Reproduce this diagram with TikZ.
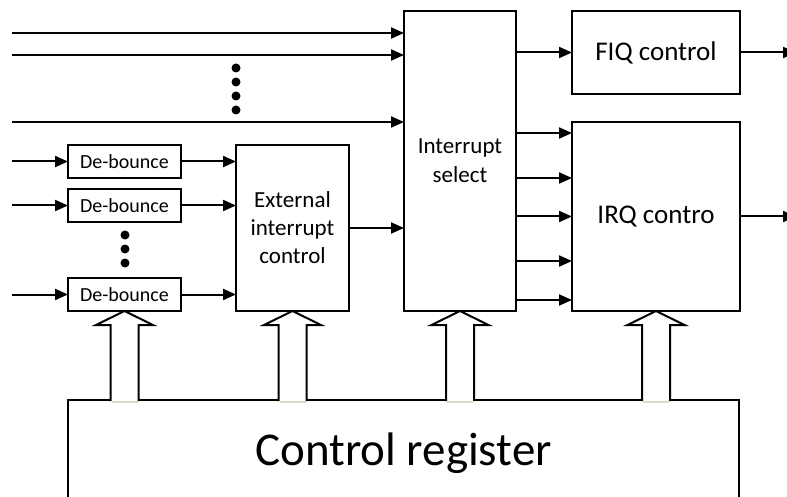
\documentclass[tikz,border=0pt]{standalone}
\usepackage{fontspec}
\setmainfont{Carlito}
\usetikzlibrary{arrows.meta,calc}
\definecolor{paleedge}{RGB}{214,220,198}
\begin{document}
\begin{tikzpicture}[x=1pt,y=-1pt,
  box/.style={draw,line width=2pt,inner sep=0pt,outer sep=0pt,align=center,fill=white},
  dbbox/.style={box,minimum width=113pt,minimum height=33pt,font=\fontsize{20}{24}\selectfont},
  sig/.style={line width=2pt,-{Triangle[length=13pt,width=11pt]}},
  blockarrow/.style={draw,fill=white,line width=2pt,line join=miter},
  paleline/.style={draw=paleedge,line width=2pt},
  dot/.style={fill=black}]
\useasboundingbox (0,0) rectangle (787,497);
\clip (0,0) rectangle (787,497);
% boxes
\node[dbbox] (db1) at (124.5,161.5) {De-bounce};
\node[dbbox] (db2) at (124.5,205.5) {De-bounce};
\node[dbbox] (db3) at (124.5,294.5) {De-bounce};
\node[box,minimum width=113pt,minimum height=166pt,font=\fontsize{23}{28}\selectfont] (ext) at (292.5,228) {External\\interrupt\\control};
\node[box,minimum width=112pt,minimum height=300pt,font=\fontsize{23}{29}\selectfont] (sel) at (460,161) {Interrupt\\select};
\node[box,minimum width=168pt,minimum height=83pt,font=\fontsize{27}{32}\selectfont] (fiq) at (656,52.5) {FIQ control};
\node[box,minimum width=168pt,minimum height=189pt,font=\fontsize{27}{32}\selectfont] (irq) at (656,216.5) {IRQ contro};
\node[box,minimum width=671pt,minimum height=130pt] (reg) at (403.5,465) {};
\node[font=\fontsize{47}{56}\selectfont,anchor=base,inner sep=0pt] (regtext) at (403.5,465) {Control register};
% input coordinates
\coordinate (in1) at (12,33);
\coordinate (in2) at (12,55);
\coordinate (in3) at (12,122);
\coordinate (ind1) at (12,161.5);
\coordinate (ind2) at (12,205.5);
\coordinate (ind3) at (12,294.5);
\coordinate (fout) at (796,52.5);
\coordinate (iout) at (796,216.5);
% top inputs to interrupt select
\foreach \c in {in1,in2,in3} \draw[sig] (\c) -- (\c -| sel.west);
% debounce inputs
\foreach \c/\d in {ind1/db1,ind2/db2,ind3/db3} \draw[sig] (\c) -- (\d.west);
% debounce to external
\foreach \d in {db1,db2,db3} \draw[sig] (\d.east) -- (\d.east -| ext.west);
% external to select
\draw[sig] (ext.east) -- (ext.east -| sel.west);
% select to FIQ
\draw[sig] (sel.east |- fiq.west) -- (fiq.west);
% select to IRQ
\foreach \yy in {133,178,216.5,261,300}
  \draw[sig] (sel.east |- 0,\yy) -- (irq.west |- 0,\yy);
% outputs
\draw[sig] (fiq.east) -- (fout);
\draw[sig] (irq.east) -- (iout);
% dots
\foreach \yy in {68,82,96,110} \fill[dot] (236,\yy) circle (4.5);
\foreach \yy in {235,249,263} \fill[dot] (125,\yy) circle (4.5);
% block arrows from control register
\foreach \n in {db3,ext,sel,irq}{
  \path[blockarrow] ($(\n.south|-reg.north)+(-14,1)$) -- ($(\n.south)+(-14,14)$) -- ++(-14.5,0) -- (\n.south) -- ++(28.5,14) -- ++(-14.5,0) -- ($(\n.south|-reg.north)+(14,1)$);
  \draw[paleline] ($(\n.south|-reg.north)+(-13,1.5)$) -- ++(26,0);
}
\end{tikzpicture}
\end{document}
